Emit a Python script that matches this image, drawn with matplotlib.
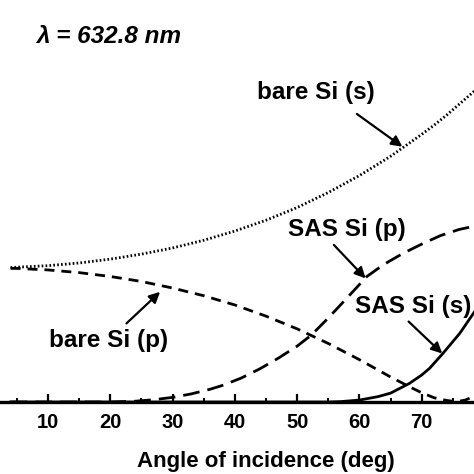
import matplotlib
matplotlib.use('Agg')
import matplotlib.pyplot as plt
from matplotlib.ticker import MultipleLocator

plt.rcParams['font.family'] = ['Liberation Sans', 'DejaVu Sans']
plt.rcParams['font.weight'] = 'bold'

# ----------------------------- data ---------------------
# reflectance vs angle of incidence (deg)
bare_s_angle = [4, 5, 10, 15, 20, 25, 30, 35, 40, 45, 50, 55, 60, 65, 70,
                72, 74, 76, 78, 80]
bare_s_refl = [0.349, 0.350, 0.354, 0.361, 0.371, 0.384, 0.400, 0.420, 0.444,
               0.472, 0.505, 0.544, 0.588, 0.638, 0.695, 0.719, 0.745, 0.773,
               0.801, 0.830]

bare_p_angle = [4, 5, 10, 15, 20, 25, 30, 35, 40, 45, 50, 55, 60, 65, 68, 70,
                72, 74, 75, 76, 77, 78, 80]
bare_p_refl = [0.347, 0.347, 0.343, 0.336, 0.326, 0.313, 0.296, 0.276, 0.252,
               0.223, 0.190, 0.152, 0.110, 0.065, 0.040, 0.024, 0.011, 0.004,
               0.002, 0.002, 0.005, 0.012, 0.025]

sas_p_angle = [4, 10, 20, 24, 27, 30, 33, 36, 38, 41, 44, 47, 50, 52.3, 55,
               58, 61.2, 64, 67, 70, 73, 76, 80]
sas_p_refl = [0.0, 0.0, 0.0, 0.002, 0.006, 0.012, 0.021, 0.033, 0.043, 0.062,
              0.086, 0.114, 0.145, 0.174, 0.218, 0.270, 0.326, 0.358, 0.386,
              0.410, 0.432, 0.448, 0.462]

sas_s_angle = [4, 20, 40, 55, 57, 60, 63, 65, 68, 70, 71.3, 73.4, 76.1, 78.3,
               80]
sas_s_refl = [0.0, 0.0, 0.0, 0.0, 0.001, 0.005, 0.014, 0.023, 0.048, 0.070,
              0.088, 0.126, 0.178, 0.230, 0.27]

# ----------------------------------------------------------------------------

fig = plt.figure(figsize=(4.74, 4.74), dpi=100)
ax = fig.add_axes([0, 72 / 474, 1, 402 / 474])

lw = 2.0
ax.plot(bare_s_angle, bare_s_refl, color='k', lw=lw, ls=(0, (0.6, 0.8)),
        clip_on=False)
ax.plot(bare_p_angle, bare_p_refl, color='k', lw=lw, ls=(0, (3.6, 2.5)),
        clip_on=False)
ax.plot(sas_p_angle, sas_p_refl, color='k', lw=lw, ls=(0, (6, 2.9)),
        clip_on=False)
ax.plot(sas_s_angle, sas_s_refl, color='k', lw=lw, ls='-', clip_on=False)

ax.set_xlim(2.3, 78.4)
ax.set_ylim(0, 1.044)

for side in ('top', 'left', 'right'):
    ax.spines[side].set_visible(False)
ax.spines['bottom'].set_linewidth(2.4)

ax.xaxis.set_major_locator(MultipleLocator(10))
ax.xaxis.set_minor_locator(MultipleLocator(5))
ax.tick_params(axis='x', which='major', direction='in', length=6, width=1.6,
               pad=8, labelsize=14.5)
ax.tick_params(axis='x', which='minor', direction='in', length=3, width=1.4)
ax.set_yticks([])
for lab in ax.get_xticklabels():
    lab.set_fontweight('bold')

ax.text(45, -0.149, 'Angle of incidence (deg)', transform=ax.get_xaxis_transform(),
        ha='center', va='center', fontsize=16, fontweight='bold')

ax.text(0.076, 0.908, '\u03bb = 632.8 nm', transform=ax.transAxes,
        ha='left', va='center', fontsize=17.5, fontweight='bold', style='italic')

arrow = dict(arrowstyle='-|>', color='k', lw=1.6, mutation_scale=16,
             shrinkA=0, shrinkB=0)
label_kw = dict(fontsize=17.5, fontweight='bold', ha='center', va='center')

ax.annotate('', xy=(66.9, 0.663), xytext=(59.6, 0.748), arrowprops=arrow)
ax.text(53.0, 0.805, 'bare Si (s)', **label_kw)

ax.annotate('', xy=(61.0, 0.321), xytext=(55.9, 0.408), arrowprops=arrow)
ax.text(58.0, 0.449, 'SAS Si (p)', **label_kw)

ax.annotate('', xy=(73.3, 0.126), xytext=(67.9, 0.209), arrowprops=arrow)
ax.text(68.7, 0.249, 'SAS Si (s)', **label_kw)

ax.annotate('', xy=(28.0, 0.286), xytext=(22.6, 0.204), arrowprops=arrow)
ax.text(19.8, 0.159, 'bare Si (p)', **label_kw)

fig.savefig('out.png', dpi=100)
